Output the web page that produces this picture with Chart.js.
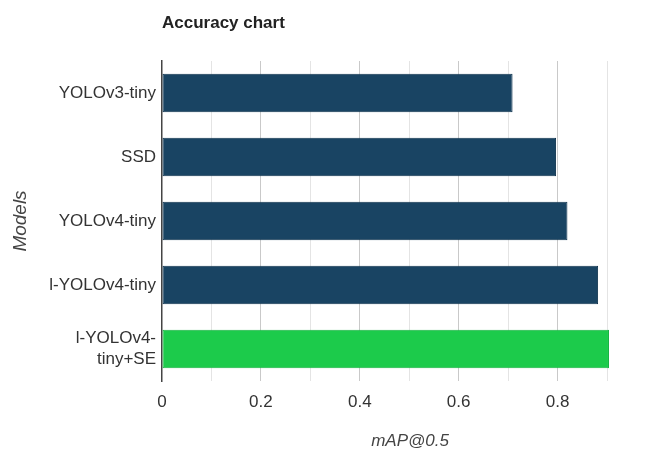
<!DOCTYPE html>
<html>
<head>
<meta charset="utf-8">
<script src="https://cdn.jsdelivr.net/npm/chart.js@4/dist/chart.umd.min.js"></script>
<style>
  html, body { margin: 0; padding: 0; background: #ffffff; }
  #wrap { width: 654px; height: 450px; position: relative; }
</style>
</head>
<body>
<div id="wrap"><canvas id="chart" width="654" height="450"></canvas></div>
<script>
// Model names (multi-line entries are split into arrays)
const models = ['YOLOv3-tiny', 'SSD', 'YOLOv4-tiny', 'l-YOLOv4-tiny', ['l-YOLOv4-', 'tiny+SE']];
// mAP@0.5 per model
const mapValues = [0.709, 0.797, 0.820, 0.882, 0.904];
// Axis tick values that carry a label
const labeledTicks = [0, 0.2, 0.4, 0.6, 0.8];

const chartTitle = 'Accuracy chart';
const xTitle = 'mAP@0.5';
const yTitle = 'Models';

const NAVY = '#194463';
const NAVY_EDGE = '#0f334d';
const GREEN = '#1ccb4b';
const GREEN_EDGE = '#14b33f';
const FONT = '"Liberation Sans", Arial, sans-serif';

// Title and x-axis caption are painted relative to the plot area
const captions = {
  id: 'captions',
  afterDraw(chart) {
    const { ctx, chartArea } = chart;
    ctx.save();
    ctx.fillStyle = '#222';
    ctx.font = 'bold 17px ' + FONT;
    ctx.textAlign = 'left';
    ctx.textBaseline = 'middle';
    ctx.fillText(chartTitle, chartArea.left, 23);
    ctx.fillStyle = '#444';
    ctx.font = 'italic 17px ' + FONT;
    ctx.textAlign = 'center';
    ctx.fillText(xTitle, 410, 441);
    ctx.restore();
  }
};

const isLast = i => i === mapValues.length - 1;

new Chart(document.getElementById('chart'), {
  type: 'bar',
  data: {
    labels: models,
    datasets: [{
      data: mapValues,
      backgroundColor: mapValues.map((v, i) => isLast(i) ? GREEN : NAVY),
      borderColor: mapValues.map((v, i) => isLast(i) ? GREEN_EDGE : NAVY_EDGE),
      borderWidth: 1,
      borderSkipped: false,
      barPercentage: 1.0,
      categoryPercentage: 0.6,
      clip: false
    }]
  },
  options: {
    indexAxis: 'y',
    responsive: false,
    animation: false,
    devicePixelRatio: 1,
    layout: { padding: { left: 0, right: 47, top: 61, bottom: 0 } },
    plugins: {
      legend: { display: false },
      title: { display: false },
      tooltip: { enabled: false }
    },
    scales: {
      x: {
        type: 'linear',
        min: 0,
        max: 0.9,
        afterFit(scale) { scale.height = 69; },
        afterBuildTicks(scale) {
          const ticks = [];
          for (let k = 0; k <= 9; k++) ticks.push({ value: k / 10 });
          scale.ticks = ticks;
        },
        border: { display: false },
        grid: {
          drawTicks: false,
          color(ctx) {
            const v = Math.round(ctx.tick.value * 10) / 10;
            if (v === 0) return 'rgba(0,0,0,0)';
            return labeledTicks.includes(v) ? '#c9c9c9' : '#e4e4e4';
          },
          lineWidth: 1
        },
        ticks: {
          padding: 11,
          color: '#333',
          font: { family: FONT, size: 17 },
          autoSkip: false,
          maxRotation: 0,
          callback(value) {
            const v = Math.round(value * 10) / 10;
            return labeledTicks.includes(v) ? String(v) : '';
          }
        }
      },
      y: {
        afterFit(scale) { scale.width = 162; },
        border: { display: true, color: '#444', width: 1.5 },
        grid: { display: false, drawTicks: false },
        ticks: {
          padding: 6,
          color: '#333',
          font: { family: FONT, size: 17 }
        },
        title: {
          display: true,
          text: yTitle,
          color: '#444',
          font: { family: FONT, size: 19, style: 'italic' },
          padding: { top: 9, bottom: 0 }
        }
      }
    }
  },
  plugins: [captions]
});
</script>
</body>
</html>
